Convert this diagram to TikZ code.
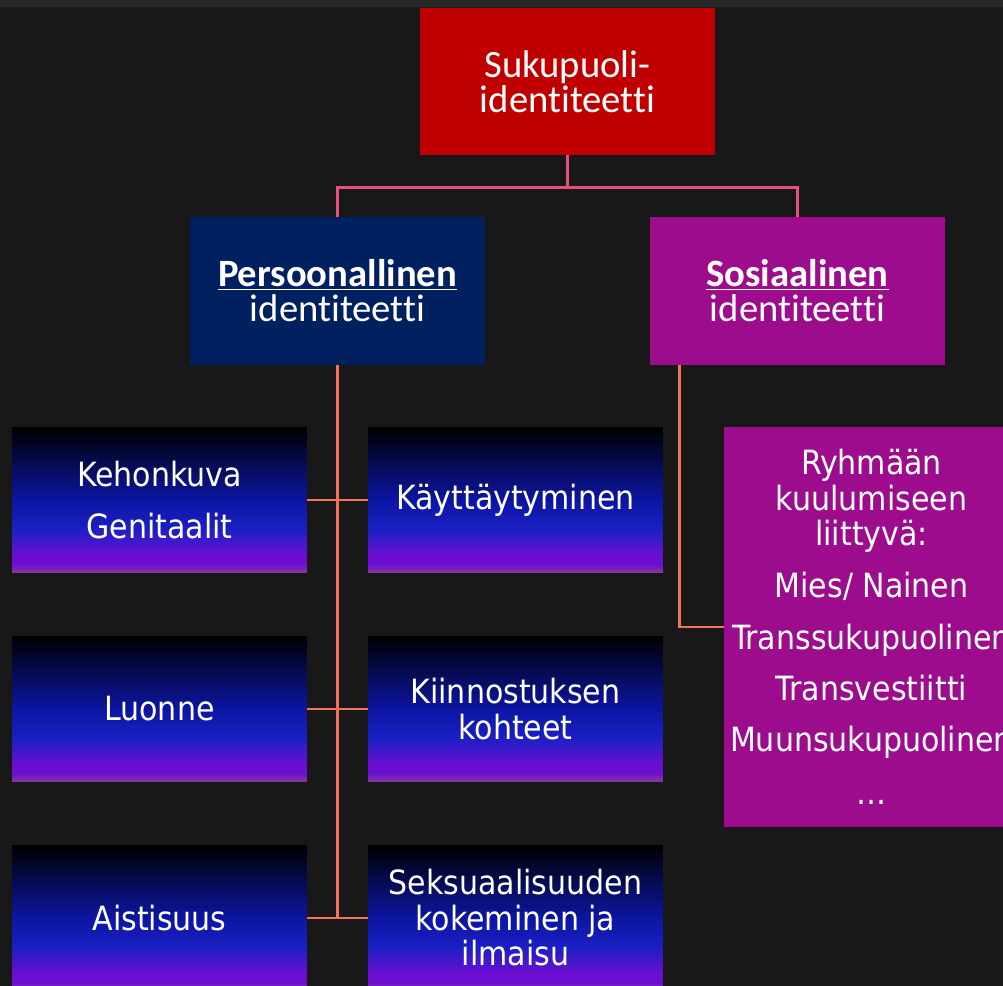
\documentclass[tikz,border=0pt]{standalone}
\usepackage{fontspec}
\setmainfont[Ligatures=CommonOff]{Carlito}
\newfontfamily\boxfont{DejaVu Sans Condensed}

\definecolor{bgcol}{HTML}{181818}
\definecolor{stripcol}{HTML}{272727}
\definecolor{sexred}{HTML}{C00000}
\definecolor{persnavy}{HTML}{002060}
\definecolor{sospurple}{HTML}{9C0C8D}
\definecolor{toplink}{HTML}{E8507A}
\definecolor{sublink}{HTML}{F2725C}
\definecolor{gradnavy}{HTML}{060B52}
\definecolor{gradmid}{HTML}{0C15A2}
\definecolor{gradblue}{HTML}{1A20C4}
\definecolor{gradviolet}{HTML}{6C0ED2}
\definecolor{gradmauve}{HTML}{8A3C9C}

\pgfdeclareverticalshading{boxgrad}{100bp}{%
  color(0bp)=(gradmauve); color(25bp)=(gradmauve);
  color(28bp)=(gradviolet); color(31bp)=(gradviolet);
  color(40bp)=(gradblue); color(50bp)=(gradmid);
  color(62.5bp)=(gradnavy); color(75bp)=(black);
  color(100bp)=(black)}

\newcommand{\ulbold}[1]{\underline{\textbf{#1}}}

\tikzset{%
  topbox/.style={
    rectangle,
    fill=sexred,
    text=white,
    minimum width=5.9cm,
    minimum height=2.94cm,
    inner sep=0pt,
    align=center,
    font=\fontsize{22}{20}\selectfont
  },
  mainbox/.style={
    topbox,
    minimum height=2.96cm
  },
  textbox/.style={
    rectangle,
    text=white,
    minimum width=5.9cm,
    inner sep=0pt,
    align=center,
    font=\boxfont\fontsize{19}{20.2}\selectfont
  },
  subbox/.style={
    textbox,
    shade,
    shading=boxgrad,
    minimum height=2.92cm
  },
  groupbox/.style={
    textbox,
    fill=sospurple,
    minimum height=8cm
  },
  toplink/.style={draw=toplink, line width=1.4pt},
  sublink/.style={draw=sublink, line width=1.4pt},
}

\begin{document}
\begin{tikzpicture}[x=0.02cm, y=-0.02cm]
\useasboundingbox (0,0) rectangle (1003,986);
\fill[bgcol] (0,0) rectangle (1003,986);
\fill[stripcol] (0,0) rectangle (1003,7);

% ylin taso
\node[topbox] (sex) at (567.5,81.5) {Sukupuoli-\\identiteetti};
\node[mainbox, fill=persnavy] (pers) at (337.5,291) {\ulbold{Persoonallinen}\\identiteetti};
\node[mainbox, fill=sospurple] (sos) at (797.5,291) {\ulbold{Sosiaalinen}\\identiteetti};

\draw[toplink] (sex.south) -- ++(0,32) -| (pers.north);
\draw[toplink] (sex.south) ++(0,32) -| (sos.north);

% persoonallinen
\node[subbox] (keho) at (159.5,500) {Kehonkuva\\[9pt]Genitaalit};
\node[subbox] (kaytt) at (515.5,500) {Käyttäytyminen};
\node[subbox] (luonne) at (159.5,709) {Luonne};
\node[subbox] (kiin) at (515.5,709) {Kiinnostuksen\\kohteet};
\node[subbox] (aist) at (159.5,918) {Aistisuus};
\node[subbox] (seks) at (515.5,918) {Seksuaalisuuden\\kokeminen ja\\ilmaisu};

\draw[sublink] (pers.south) -- (pers.south |- aist.east);
\draw[sublink] (keho.east) -- (kaytt.west);
\draw[sublink] (luonne.east) -- (kiin.west);
\draw[sublink] (aist.east) -- (seks.west);

% sosiaalinen
\node[groupbox] (group) at (871.5,627) {Ryhmään\\kuulumiseen\\liittyvä:\\[9.5pt]Mies/ Nainen\\[9pt]Transsukupuolinen\\[9pt]Transvestiitti\\[9pt]Muunsukupuolinen\\[10pt]…};

\draw[sublink] ([xshift=0.6cm]sos.south west) |- (group.west);
\end{tikzpicture}
\end{document}
